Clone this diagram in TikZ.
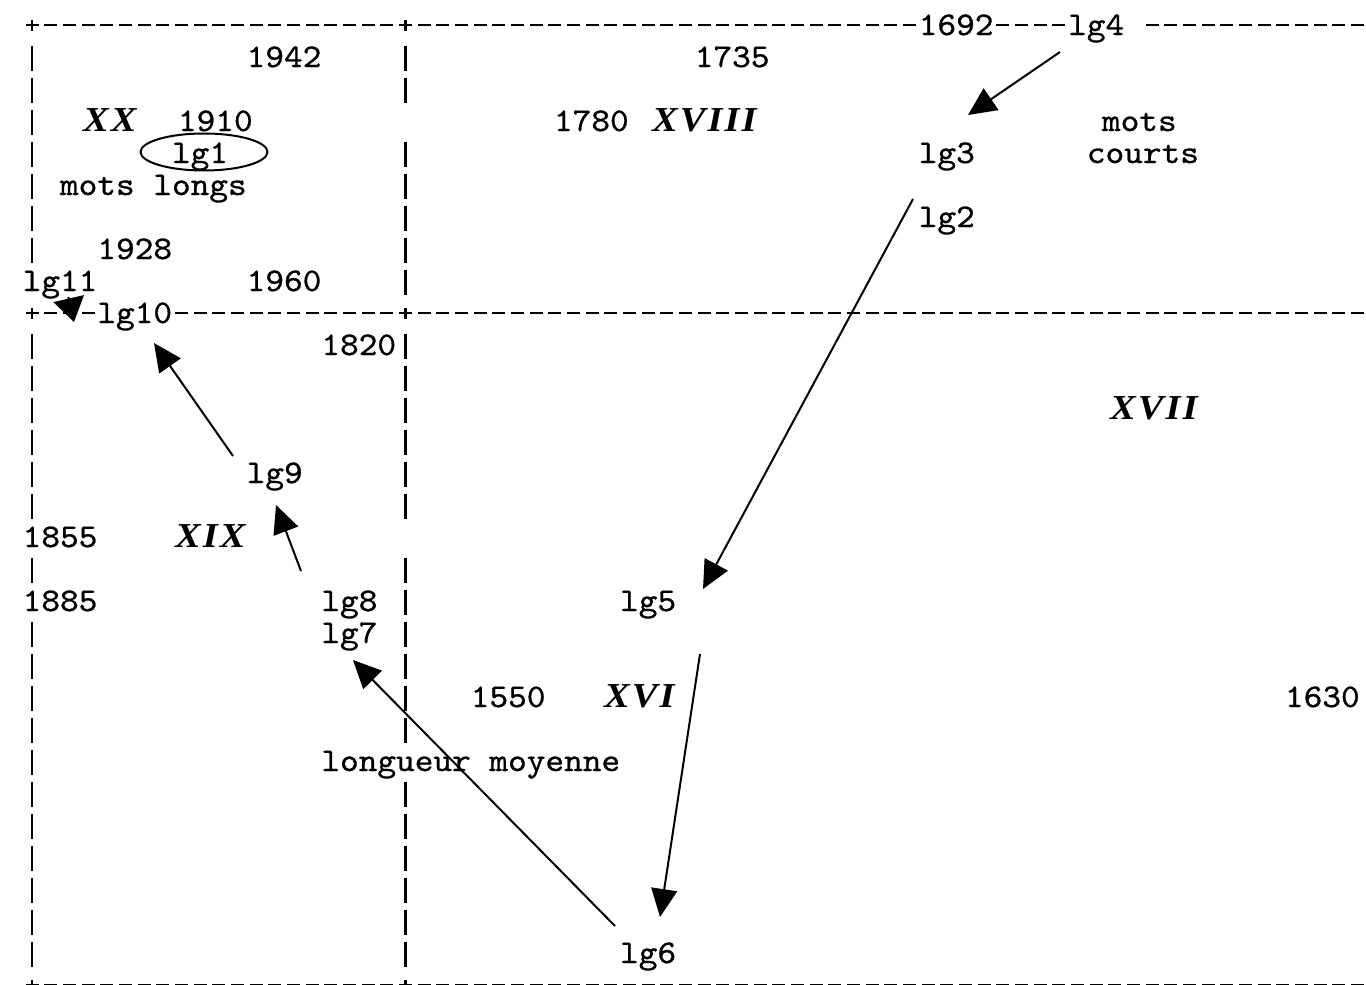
\documentclass[tikz,border=0pt]{standalone}
\usepackage{fontspec}
\usetikzlibrary{arrows.meta}
\newfontfamily\monofont[FakeStretch=1.078,FakeBold=0.8]{lmmono10-regular.otf}
\newfontfamily\romfont[FakeStretch=1.1,LetterSpace=6]{Liberation Serif}
% grid helpers: horizontal dashes, vertical bars, plus signs (column / row cells)
\newcommand\hseg[3]{\foreach \cc in {#2,...,#3}{\draw[gridln] ({32+18.67*\cc-6.5},{25+32*#1}) -- ++(13,0);}}
\newcommand\vseg[3]{\foreach \rr in {#2,...,#3}{\draw[gridln] ({32+18.67*#1},{25+32*\rr-11.5}) -- ++(0,25);}}
\newcommand\plusat[2]{\draw[gridln] ({32+18.67*#1-6.5},{25+32*#2}) -- ++(13,0) ({32+18.67*#1},{25+32*#2-5.5}) -- ++(0,11.5);}
\begin{document}
\begin{tikzpicture}[x=1pt,y=-1pt,
  gridln/.style={line width=2.2pt,black},
  txt/.style={anchor=base west,inner sep=0pt,outer sep=0pt,font={\monofont\fontsize{33}{32}\selectfont}},
  rom/.style={anchor=base west,inner sep=0pt,outer sep=0pt,font={\romfont\bfseries\itshape\fontsize{35}{35}\selectfont}},
  arr/.style={line width=2pt,-{Triangle[length=28pt,width=26pt]}},
  arrsmall/.style={line width=2pt,-{Triangle[length=24pt,width=31pt]}}]
\useasboundingbox (0,0) rectangle (1366,985);
\fill[white] (0,0) rectangle (1366,985);
% ---- grid lines ----
\plusat{0}{0}\plusat{20}{0}
\hseg{0}{1}{19}\hseg{0}{21}{47}\hseg{0}{52}{55}\hseg{0}{60}{72}
\plusat{0}{9}\plusat{20}{9}
\hseg{9}{1}{3}\hseg{9}{8}{19}\hseg{9}{21}{72}
\plusat{0}{30}\plusat{20}{30}
\hseg{30}{1}{19}\hseg{30}{21}{72}
\vseg{0}{1}{7}\vseg{0}{10}{15}\vseg{0}{17}{17}\vseg{0}{19}{29}
\vseg{20}{1}{2}\vseg{20}{4}{8}\vseg{20}{10}{15}\vseg{20}{17}{22}\vseg{20}{24}{29}
% ---- texts ----
\node[txt] (y1692) at (918.8,35) {1692};
\node[txt] (lg4) at (1068.2,35) {lg4};
\node[txt] (y1942) at (246.7,67) {1942};
\node[txt] (y1735) at (694.8,67) {1735};
\node[rom] (sXX) at (83,131) {XX};
\node[txt] (y1910) at (178,131) {1910};
\node[txt] (y1780) at (554,131) {1780};
\node[rom] (sXVIII) at (652,131) {XVIII};
\node[txt] (mots) at (1102,131) {mots};
\node[txt] (lg1) at (172.0,163) {lg1};
\node[txt] (lg3) at (918.8,163) {lg3};
\node[txt] (courts) at (1086.9,163) {courts};
\node[txt] (motslongs) at (60.0,195) {mots longs};
\node[txt] (lg2) at (918.8,227) {lg2};
\node[txt] (y1928) at (97.4,259) {1928};
\node[txt] (lg11) at (22.7,291) {lg11};
\node[txt] (y1960) at (246.7,291) {1960};
\node[txt] (lg10) at (97.4,323) {lg10};
\node[txt] (y1820) at (321.4,355) {1820};
\node[rom] (sXVII) at (1110,419) {XVII};
\node[txt] (lg9) at (246.7,483) {lg9};
\node[txt] (y1855) at (22.7,547) {1855};
\node[rom] (sXIX) at (175,547) {XIX};
\node[txt] (y1885) at (22.7,611) {1885};
\node[txt] (lg8) at (321.4,611) {lg8};
\node[txt] (lg5) at (620.1,611) {lg5};
\node[txt] (lg7) at (321.4,643) {lg7};
\node[txt] (y1550) at (470.8,707) {1550};
\node[rom] (sXVI) at (604,707) {XVI};
\node[txt] (y1630) at (1285,707) {1630};
\node[txt] (moyenne) at (321.4,771) {longueur moyenne};
\node[txt] (lg6) at (620.1,963) {lg6};
% ---- ellipse round lg1 ----
\draw[line width=2pt] ([shift={(32,-11)}]lg1.base west) ellipse [x radius=63.5, y radius=18.5];
% ---- arrows ----
\draw[arr] ([shift={(-8.2,17)}]lg4.base west) -- ([shift={(49.2,-48)}]lg3.base west);
\draw[arr] ([shift={(-5.8,-28)}]lg2.base west) -- ([shift={(82.9,-22)}]lg5.base west);
\draw[arr] ([shift={(79.9,43)}]lg5.base west) -- ([shift={(39.9,-46)}]lg6.base west);
\draw[arr] ([shift={(-5.1,-37)}]lg6.base west) -- ([shift={(31.6,17)}]lg7.base west);
\draw[arr] ([shift={(-20.4,-40)}]lg8.base west) -- ([shift={(29.3,22)}]lg9.base west);
\draw[arr] ([shift={(-13.7,-27)}]lg9.base west) -- ([shift={(56.6,20)}]lg10.base west);
\draw[arrsmall] ([shift={(45.6,6)}]lg11.base west) -- ([shift={(-23.4,-1)}]lg10.base west);
\end{tikzpicture}
\end{document}
